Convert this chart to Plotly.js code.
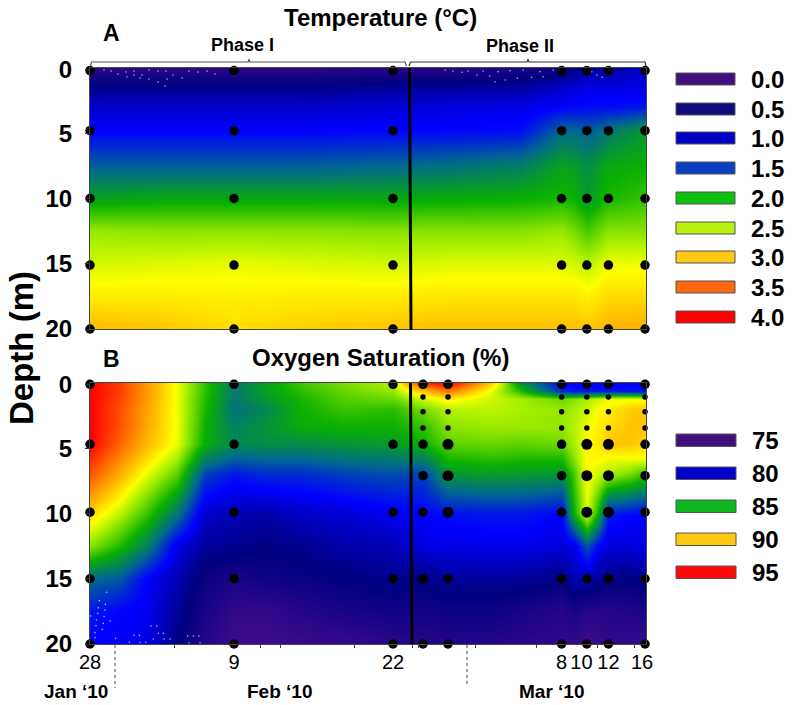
<!DOCTYPE html>
<html><head><meta charset="utf-8">
<script src="https://cdn.plot.ly/plotly-3.0.1.min.js"></script>
<style>html,body{margin:0;padding:0;background:#fff}#c{width:793px;height:705px}</style></head>
<body><div id="c"></div>
<script>
// ---- data ----
const tempDays = [0,5.8,12,17.5,25.25,30,35.8,39.3,40.3,41.4,42.3,43.2,46.33];
const tempDepths = [0,1.5,3,4.8,7.5,10,12.5,15,17.5,20];
const tempColumns = [
 [0.15,0.55,0.8,1.0,1.45,1.9,2.45,2.62,2.82,3.05],
 [0.15,0.55,0.8,1.0,1.45,1.95,2.42,2.65,2.82,3.0],
 [0.15,0.55,0.8,1.0,1.45,1.95,2.42,2.68,2.8,2.88],
 [0.15,0.55,0.8,1.0,1.45,1.95,2.42,2.65,2.82,2.95],
 [0.2,0.6,0.85,1.02,1.5,1.95,2.4,2.62,2.82,3.0],
 [0.2,0.62,0.88,1.03,1.55,1.98,2.4,2.65,2.85,3.03],
 [0.3,0.65,0.9,1.05,1.65,2.0,2.4,2.65,2.85,3.03],
 [0.35,0.8,1.0,1.5,1.9,2.05,2.45,2.65,2.85,3.03],
 [0.5,0.85,1.03,1.5,1.85,2.0,2.35,2.62,2.85,3.03],
 [0.6,0.9,1.05,1.45,1.75,1.85,2.2,2.55,2.8,3.0],
 [0.6,0.9,1.05,1.5,1.85,1.95,2.3,2.62,2.85,3.03],
 [0.6,0.9,1.05,1.6,1.95,2.05,2.4,2.7,2.9,3.08],
 [0.8,0.9,1.1,1.85,2.0,2.15,2.4,2.7,2.9,3.12]
];
const oxyDays = [0,2.5,4.83,7.25,9.6,12,14.6,17.5,21.25,25.25,27.75,29.83,33.3,35.8,39.3,40.3,41.4,42.3,43.2,45,46.33];
const oxyDepths = [0,0.6,1.2,2,3.4,4.7,5.8,7,10,12.5,15,17.5,20];
const oxyColumns = [
 [95,95,95,95,95,95,94,93,89.5,87,82.5,80.5,80],
 [93.5,93.5,93.3,93,93,92.5,91.5,90.5,87.7,85.3,82,80,79.8],
 [91,91,91,90.8,90.6,90.2,89.3,88.3,85.6,83.2,79.8,79.7,79.5],
 [88.5,88.5,88.5,88.5,88.5,88.4,87.4,86.3,82.9,79.5,78.5,78,77.5],
 [85.6,85.6,85.4,85.3,85,84.8,83.3,81.5,79,78,77,76.5,76],
 [83,83,83,82.8,83.3,83.6,82.2,80.5,78.5,77.8,76.5,75.5,75],
 [84.5,84.4,84,83.5,84,83.7,82.4,81,78.3,77.5,76.8,75.5,75],
 [85.8,85.5,85.2,85,84.8,83.7,82.4,81,78.8,77.8,77,76,75.2],
 [86.8,86.5,86.2,85.8,85,84,82.8,81.5,79.2,78.3,77.4,76.5,75.3],
 [87.6,87.2,86.5,85.5,85,84.3,83,81.8,79.7,78.5,77.8,76.8,75.8],
 [94,90,88,86.7,85.6,85,83.3,81.5,80,79.5,77.5,76.7,76],
 [95,92,89,87.7,87,86.3,85.2,84,80.3,79.5,78,77,76],
 [90,88.5,88,87.8,87.3,86.5,85.5,84.3,80.5,79.6,78,77,76],
 [84,85.5,87.5,87.5,87.3,86.3,85.3,84.2,80.5,79.6,78,76.5,75.8],
 [80,81,86.5,87.2,87.2,86.6,85.3,84,80,79.3,77.5,76,75.5],
 [80,80.5,87,87.5,87.7,87.5,87,86,85,79.5,78.5,76.5,75.5],
 [80,80.5,87.5,88,88.5,88.7,88.8,88.8,88.2,82,78.5,76,75],
 [80,80.5,88,88.7,89,89.2,88.8,88,85,80,78,76,75.3],
 [80,80.5,88.5,89,89.5,90,88.5,87.5,80.5,79.3,77.5,76,75.5],
 [80,80.5,88.5,89.8,90,90,88.5,86.7,80.2,79.3,77.5,76.2,75.5],
 [80,80.2,88.5,90,90,89.5,88.5,85.5,80,79.5,78,76.5,75]
];
const tempSampleDays = [0,12,25.25,39.3,41.4,43.2,46.25];
const tempSampleDepths = [0.2,4.8,10,15.1,20];
const oxySampleDays = [0,12,25.25,27.75,29.83,39.3,41.4,43.2,46.25];
const oxyCoarseDepths = [0.1,4.7,9.9,15,20];
const oxyFineDays = [27.75,29.83,39.3,41.4,43.2,46.25];
const oxyFineDepths = [1.07,2.2,3.45];
const oxyExtraDays = [27.75,29.83,39.3,41.4,43.2,46.25];
const oxyExtraDepths = [7.1];
const oxyLargeDays = [29.83,41.4,43.2];
const oxyLargeDepths = [4.7,7.1,9.9];
const stippleTempDays = [1.17,1.75,2.33,3,3.08,3.67,3.67,4.33,4.17,4.92,4.92,5.67,5.67,6.33,6.25,6.42,6.92,7.67,8.25,9,9.75,10.42,29.6,30.25,31,31.5,32.25,32.75,33.3,33.75,34,34.6,35,35.6,36.1,36.8,37.5,37.75,38.6,41.8,42.25,42.67];
const stippleTempDepths = [0.15,0.23,0.46,0.31,0.69,0.23,0.54,0.54,0.77,0.15,0.84,0.23,1.07,0.23,1.38,0.84,0.54,0.77,0.23,0.31,0.23,0.46,0.15,0.23,0.33,0.23,0.54,0.23,0.61,1.05,0.28,0.92,0.2,0.79,0.15,0.71,0.28,0.67,0.15,0.28,0.54,0.71];
const stippleOxyDays = [1.39,0.78,1.28,0.69,1.25,0.64,1.17,0.56,1.67,0.05,0.5,1.11,0.42,1.03,0.42,2.14,3.28,3.67,4.11,4.17,4.64,5.08,5.56,5.69,6.11,5.28,6.17,6.67,8.14,8.61,9.08,8.25,9.17];
const stippleOxyDepths = [16.04,16.68,16.96,17.22,17.39,17.65,17.9,18.16,18.24,17.85,18.6,18.42,19.13,18.88,19.51,19.57,19.87,19.34,19.34,19.87,19.87,18.62,18.62,19.18,19.18,19.62,19.62,19.62,19.39,19.39,19.39,19.9,19.9];
const depthTicks = [0.1,5,10,15,20];
const depthLabels = ['0','5','10','15','20'];
const xTickDays = [0,12,25.25,39.3,40.95,43.2,46.0];
const xTickLabels = ['28','9','22','8','10','12','16'];
const minorTickDays = [7,14.2,15.9,22,26.9,27.4,32.1,37.2,42.3,45.4];
const tempLegendLabels = ['0.0','0.5','1.0','1.5','2.0','2.5','3.0','3.5','4.0'];
const tempLegendColors = ['#41107f','#100c80','#0000c4','#0a40c0','#10c010','#b8f010','#ffc814','#ff6a10','#ff0000'];
const oxyLegendLabels = ['75','80','85','90','95'];
const oxyLegendColors = ['#41107f','#0000c8','#10b820','#ffc810','#ff0a0a'];
const rainbow = [[0,'#3c0a8c'],[0.125,'#000080'],[0.25,'#0000ff'],[0.375,'#006a8c'],[0.5,'#08b000'],[0.625,'#a8f000'],[0.685,'#ffff00'],[0.75,'#ffc400'],[0.875,'#ff6600'],[1,'#ff0000']];

// ---- helpers ----
const W=793,H=705;
const fx=p=>p/W, fy=p=>1-p/H;
const transpose=c=>c[0].map((_,i)=>c.map(r=>r[i]));
const FONT='"Liberation Sans", Arial, sans-serif';
const heat=(x,y,cols,zmin,zmax,xa,ya)=>({type:'heatmap',x,y,z:transpose(cols),zmin,zmax,zsmooth:'best',colorscale:rainbow,showscale:false,hoverinfo:'skip',xaxis:xa,yaxis:ya});
const dots=(xs,ys,size,xa,ya)=>{const x=[],y=[];xs.forEach(a=>ys.forEach(b=>{x.push(a);y.push(b)}));
  return {type:'scatter',mode:'markers',x,y,cliponaxis:false,xaxis:xa,yaxis:ya,marker:{color:'#000',size},hoverinfo:'skip',showlegend:false};};
const stipple=(x,y,xa,ya)=>({type:'scatter',mode:'markers',x,y,xaxis:xa,yaxis:ya,marker:{color:'rgba(225,235,255,0.75)',size:1.6},hoverinfo:'skip',showlegend:false});
const data=[
 heat(tempDays,tempDepths,tempColumns,0,4,'x','y'),
 heat(oxyDays,oxyDepths,oxyColumns,75,95,'x2','y2'),
 stipple(stippleTempDays,stippleTempDepths,'x','y'),
 stipple(stippleOxyDays,stippleOxyDepths,'x2','y2'),
 dots(tempSampleDays,tempSampleDepths,9.5,'x','y'),
 dots(oxySampleDays,oxyCoarseDepths,9.5,'x2','y2'),
 dots(oxyExtraDays,oxyExtraDepths,9.5,'x2','y2'),
 dots(oxyLargeDays,oxyLargeDepths,11,'x2','y2'),
 dots(oxyFineDays,oxyFineDepths,5.5,'x2','y2')
];
const ann=(text,x,y,size,extra)=>Object.assign({text:text,x:fx(x),y:fy(y),xref:'paper',yref:'paper',showarrow:false,xanchor:'center',yanchor:'middle',font:{family:FONT,size,color:'#000',weight:700}},extra||{});
const annotations=[
 ann('<b>Temperature (°C)</b>',380,17,24),
 ann('<b>Oxygen Saturation (%)</b>',380,358,24),
 ann('<b>A</b>',111,33,23),
 ann('<b>B</b>',111,359,23),
 ann('<b>Phase I</b>',242,45,18),
 ann('<b>Phase II</b>',520,46,18),
 ann('<b>Depth (m)</b>',21,348,33,{textangle:-90}),
 ann("<b>Jan ‘10</b>",76,691,19),
 ann("<b>Feb ‘10</b>",279,691,19),
 ann("<b>Mar ‘10</b>",551,691,19)
];
const shapes=[];
const line=(pts,color,width,dash)=>shapes.push({type:'path',xref:'paper',yref:'paper',
  path:'M'+pts.map(p=>fx(p[0])+' '+fy(p[1])).join(' L'),line:{color,width,dash:dash||'solid'},layer:'above'});
line([[90.5,66],[91.5,62],[248,62],[249,59.5],[250,62],[405,62],[406.5,66]],'#555',1.2);
line([[409,66],[410.5,62],[527,62],[528,59.5],[529,62],[645,62],[646,66]],'#333',1.2);
line([[409.5,68],[411,330]],'#000',3);
line([[410.5,383],[412,644]],'#000',3);
line([[115,645],[115,688]],'#444',1,'dot');
line([[467,645],[467,686]],'#444',1,'dot');
const swatch=(y0,y1,x1,c)=>shapes.push({type:'rect',xref:'paper',yref:'paper',x0:fx(676),x1:fx(x1),y0:fy(y0),y1:fy(y1),fillcolor:c,line:{color:'#555',width:1}});
const tempY=[73,103,132,162,192,222,251,281,311];
tempLegendColors.forEach((c,i)=>{swatch(tempY[i],tempY[i]+12,735,c);
  annotations.push(ann('<b>'+tempLegendLabels[i]+'</b>',749,tempY[i]+6.5,24,{xanchor:'left'}));});
const oxyY=[434,467,500,533,566];
oxyLegendColors.forEach((c,i)=>{swatch(oxyY[i],oxyY[i]+12.5,736,c);
  annotations.push(ann('<b>'+oxyLegendLabels[i]+'</b>',750,oxyY[i]+6.5,24,{xanchor:'left'}));});

const yAxis=(dom,anchor)=>({domain:dom,anchor,range:[20,0],tickmode:'array',tickvals:depthTicks,ticktext:depthLabels,
  ticks:'outside',ticklen:4,tickcolor:'#333',showline:true,linecolor:'#444',linewidth:1,mirror:true,showgrid:false,zeroline:false,
  ticklabelstandoff:8,tickfont:{family:FONT,size:24,color:'#000',weight:700}});
const layout={width:W,height:H,margin:{l:0,r:0,t:0,b:0},paper_bgcolor:'#fff',plot_bgcolor:'#fff',showlegend:false,
 xaxis:{domain:[fx(90),fx(646)],anchor:'y',range:[0,46.33],showticklabels:false,ticks:'',showline:true,linecolor:'#444',linewidth:1,mirror:true,showgrid:false,zeroline:false},
 yaxis:yAxis([fy(329),fy(68)],'x'),
 xaxis2:{domain:[fx(90),fx(646)],anchor:'y2',range:[0,46.33],tickmode:'array',tickvals:xTickDays,ticktext:xTickLabels,
   ticks:'',tickfont:{family:FONT,size:20,color:'#000'},showline:true,linecolor:'#444',linewidth:1,mirror:true,showgrid:false,zeroline:false,ticklabelstandoff:0,
   minor:{tickmode:'array',tickvals:minorTickDays,ticks:'outside',ticklen:3,tickcolor:'#444'}},
 yaxis2:yAxis([fy(644),fy(383)],'x2'),
 annotations,shapes};
Plotly.newPlot('c',data,layout,{staticPlot:true,displayModeBar:false});
</script></body></html>
